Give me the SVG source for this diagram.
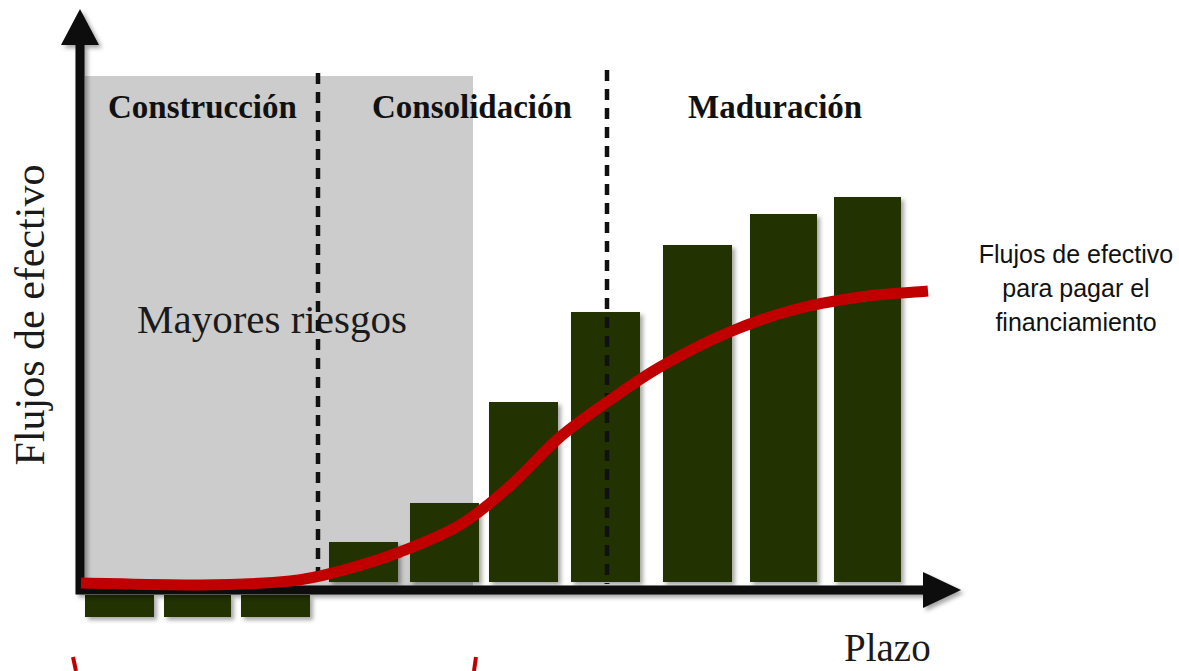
<svg xmlns="http://www.w3.org/2000/svg" width="1179" height="671" viewBox="0 0 1179 671">
  <defs>
    <filter id="shadow" x="-20%" y="-20%" width="150%" height="150%">
      <feDropShadow dx="3" dy="3" stdDeviation="2" flood-color="#000" flood-opacity="0.35"/>
    </filter>
    <style>
      .bar { fill: #213201; filter: url(#shadow); }
      .dash { stroke: #111; stroke-width: 4.5; stroke-dasharray: 11 8; fill: none; }
      .axis { stroke: #0a0a0a; stroke-width: 9; fill: none; }
      .head { fill: #0a0a0a; }
      .phase { font-family: "Liberation Serif", "Times New Roman", serif; font-weight: bold; font-size: 33px; fill: #111; }
      .serif { font-family: "Liberation Serif", "Times New Roman", serif; fill: #1a1a1a; }
      .note { font-family: "Liberation Sans", Arial, sans-serif; font-size: 25px; fill: #111; text-anchor: middle; }
      .red { stroke: #C00000; fill: none; }
    </style>
  </defs>
  <rect width="1179" height="671" fill="#fff"/>

  <g id="risk-zone">
    <rect x="85" y="76" width="388" height="510" fill="#cccccc"/>
    <text class="serif" x="137" y="333" font-size="41">Mayores riesgos</text>
  </g>

  <g id="dividers">
    <line class="dash" x1="318" y1="73" x2="318" y2="582"/>
    <line class="dash" x1="607" y1="70" x2="607" y2="584"/>
  </g>

  <g id="bars">
    <rect class="bar" x="329" y="542" width="69" height="40"/>
    <rect class="bar" x="410" y="503" width="69" height="79"/>
    <rect class="bar" x="489" y="402" width="69" height="180"/>
    <rect class="bar" x="571" y="312" width="69" height="270"/>
    <rect class="bar" x="663" y="245" width="69" height="337"/>
    <rect class="bar" x="750" y="214" width="67" height="368"/>
    <rect class="bar" x="834" y="197" width="67" height="385"/>
    <rect class="bar" x="85" y="595" width="69" height="22"/>
    <rect class="bar" x="164" y="595" width="67" height="22"/>
    <rect class="bar" x="241" y="595" width="69" height="22"/>
  </g>
  <line class="dash" x1="607" y1="316" x2="607" y2="584" stroke-dashoffset="18"/>

  <g id="axes" filter="url(#shadow)">
    <path class="axis" d="M80,40 V590 H926"/>
    <polygon class="head" points="80,9 61,45 99,45"/>
    <polygon class="head" points="961,590 923,572 923,608"/>
  </g>

  <g id="connectors">
    <path class="red" stroke-width="11" d="M81,583 C100.8,583.3 165.2,585.3 200,585 C234.8,584.7 266.7,583.3 290,581 C313.3,578.7 321.7,575.8 340,571 C358.3,566.2 380,559.7 400,552 C420,544.3 441.7,536 460,525 C478.3,514 493.3,500.7 510,486 C526.7,471.3 543.3,451.3 560,437 C576.7,422.7 593.3,411.7 610,400 C626.7,388.3 640.5,378.2 660,367 C679.5,355.8 704.8,342.5 727,333 C749.2,323.5 770.8,316 793,310 C815.2,304 837.5,300.2 860,297 C882.5,293.8 916.7,292 928,291"/>
    <line class="red" stroke-width="4" x1="73" y1="657" x2="76" y2="671"/>
    <line class="red" stroke-width="4" x1="476" y1="657" x2="474" y2="671"/>
  </g>

  <g id="labels">
    <text class="phase" x="108" y="118">Construcción</text>
    <text class="phase" x="372" y="118">Consolidación</text>
    <text class="phase" x="688" y="118">Maduración</text>
    <text class="serif" font-size="42" transform="translate(44,315) rotate(-90)" text-anchor="middle">Flujos de efectivo</text>
    <text class="serif" font-size="39" x="844" y="661">Plazo</text>
  </g>

  <g id="note">
    <text class="note" x="1076" y="263">Flujos de efectivo</text>
    <text class="note" x="1076" y="297">para pagar el</text>
    <text class="note" x="1076" y="331">financiamiento</text>
  </g>
</svg>
